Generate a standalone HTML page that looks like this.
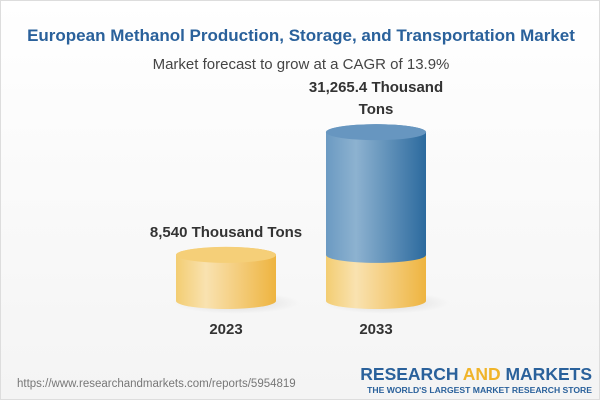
<!DOCTYPE html>
<html><head><meta charset="utf-8"><style>
body{margin:0;width:600px;height:400px;overflow:hidden;font-family:"Liberation Sans",sans-serif;}
#wrap{position:absolute;left:0;top:0;width:598px;height:398px;border:1px solid #ddd;background:linear-gradient(#fff,#f4f4f4);}
</style></head><body>
<div id="wrap">
<svg width="600" height="400">
<defs>
<linearGradient id="gy" x1="0" x2="1"><stop offset="0" stop-color="#f3cd72"/><stop offset="0.3" stop-color="#f9e2b0"/><stop offset="1" stop-color="#eeb440"/></linearGradient>
<linearGradient id="gb" x1="0" x2="1"><stop offset="0" stop-color="#6b9ac2"/><stop offset="0.3" stop-color="#8db2d0"/><stop offset="1" stop-color="#2c6a9e"/></linearGradient>
<radialGradient id="sh"><stop offset="0" stop-color="#000" stop-opacity="0.12"/><stop offset="1" stop-color="#000" stop-opacity="0"/></radialGradient>
</defs>
<text x="300" y="40" text-anchor="middle" font-size="17" font-weight="bold" fill="#2a619b">European Methanol Production, Storage, and Transportation Market</text>
<text x="300" y="68" text-anchor="middle" font-size="15" fill="#444">Market forecast to grow at a CAGR of 13.9%</text>
<g id="bars"></g>
<text x="16" y="386" font-size="11.5" fill="#777">https://www.researchandmarkets.com/reports/5954819</text>
<text x="591" y="379" text-anchor="end" font-size="17.5" font-weight="bold" fill="#2a619b">RESEARCH <tspan fill="#f0b429">AND</tspan> MARKETS</text>
<text x="591" y="392" text-anchor="end" font-size="8.6" font-weight="bold" fill="#2a619b">THE WORLD'S LARGEST MARKET RESEARCH STORE</text>
</svg></div>
<script>
const categories=["2023","2033"];
const values=[8540,31265.4];
const baseValues=[8540,8540];
const labels=["8,540 Thousand Tons","31,265.4 Thousand|Tons"];
const NS="http://www.w3.org/2000/svg";
const g=document.getElementById('bars');
const baseY=300, scale=0.0054, rx=50, ry=8;
const xc=i=>225+i*150;
const yv=v=>baseY-v*scale;
function el(t,a){const e=document.createElementNS(NS,t);for(const k in a)e.setAttribute(k,a[k]);g.appendChild(e);return e;}
function cyl(cx,y0,y1,fill,top,name){
  const p=el('path',{d:`M${cx-rx},${y1} L${cx-rx},${y0} A${rx},${ry} 0 0 0 ${cx+rx},${y0} L${cx+rx},${y1} A${rx},${ry} 0 0 0 ${cx-rx},${y1} Z`,fill:fill});
  
  
  if(top){const t=el('ellipse',{cx:cx,cy:y1,rx:rx,ry:ry,fill:top});
  
  }
}
categories.forEach((c,i)=>{
  const cx=xc(i);
  const s=el('ellipse',{cx:cx+10,cy:baseY+2,rx:rx+14,ry:ry+3,fill:'url(#sh)'});
  
  
  const yb=yv(baseValues[i]);
  if(values[i]>baseValues[i]){
    cyl(cx,baseY,yb,'url(#gy)',null,'bar-base-'+c);
    cyl(cx,yb,yv(values[i]),'url(#gb)','#6796c0','bar-'+c);
  } else cyl(cx,baseY,yb,'url(#gy)','#f5cf78','bar-'+c);
  const parts=labels[i].split('|');
  const ly=yv(values[i])-ry-10-(parts.length-1)*22;
  parts.forEach((p,j)=>{const t=el('text',{x:cx,y:ly+j*22,'text-anchor':'middle','font-size':15,'font-weight':'bold',fill:'#333'});t.textContent=p;
    
    });
  const yl=el('text',{x:cx,y:333,'text-anchor':'middle','font-size':15,'font-weight':'bold',fill:'#333'});yl.textContent=c;
  
  
});
</script>
</body></html>
